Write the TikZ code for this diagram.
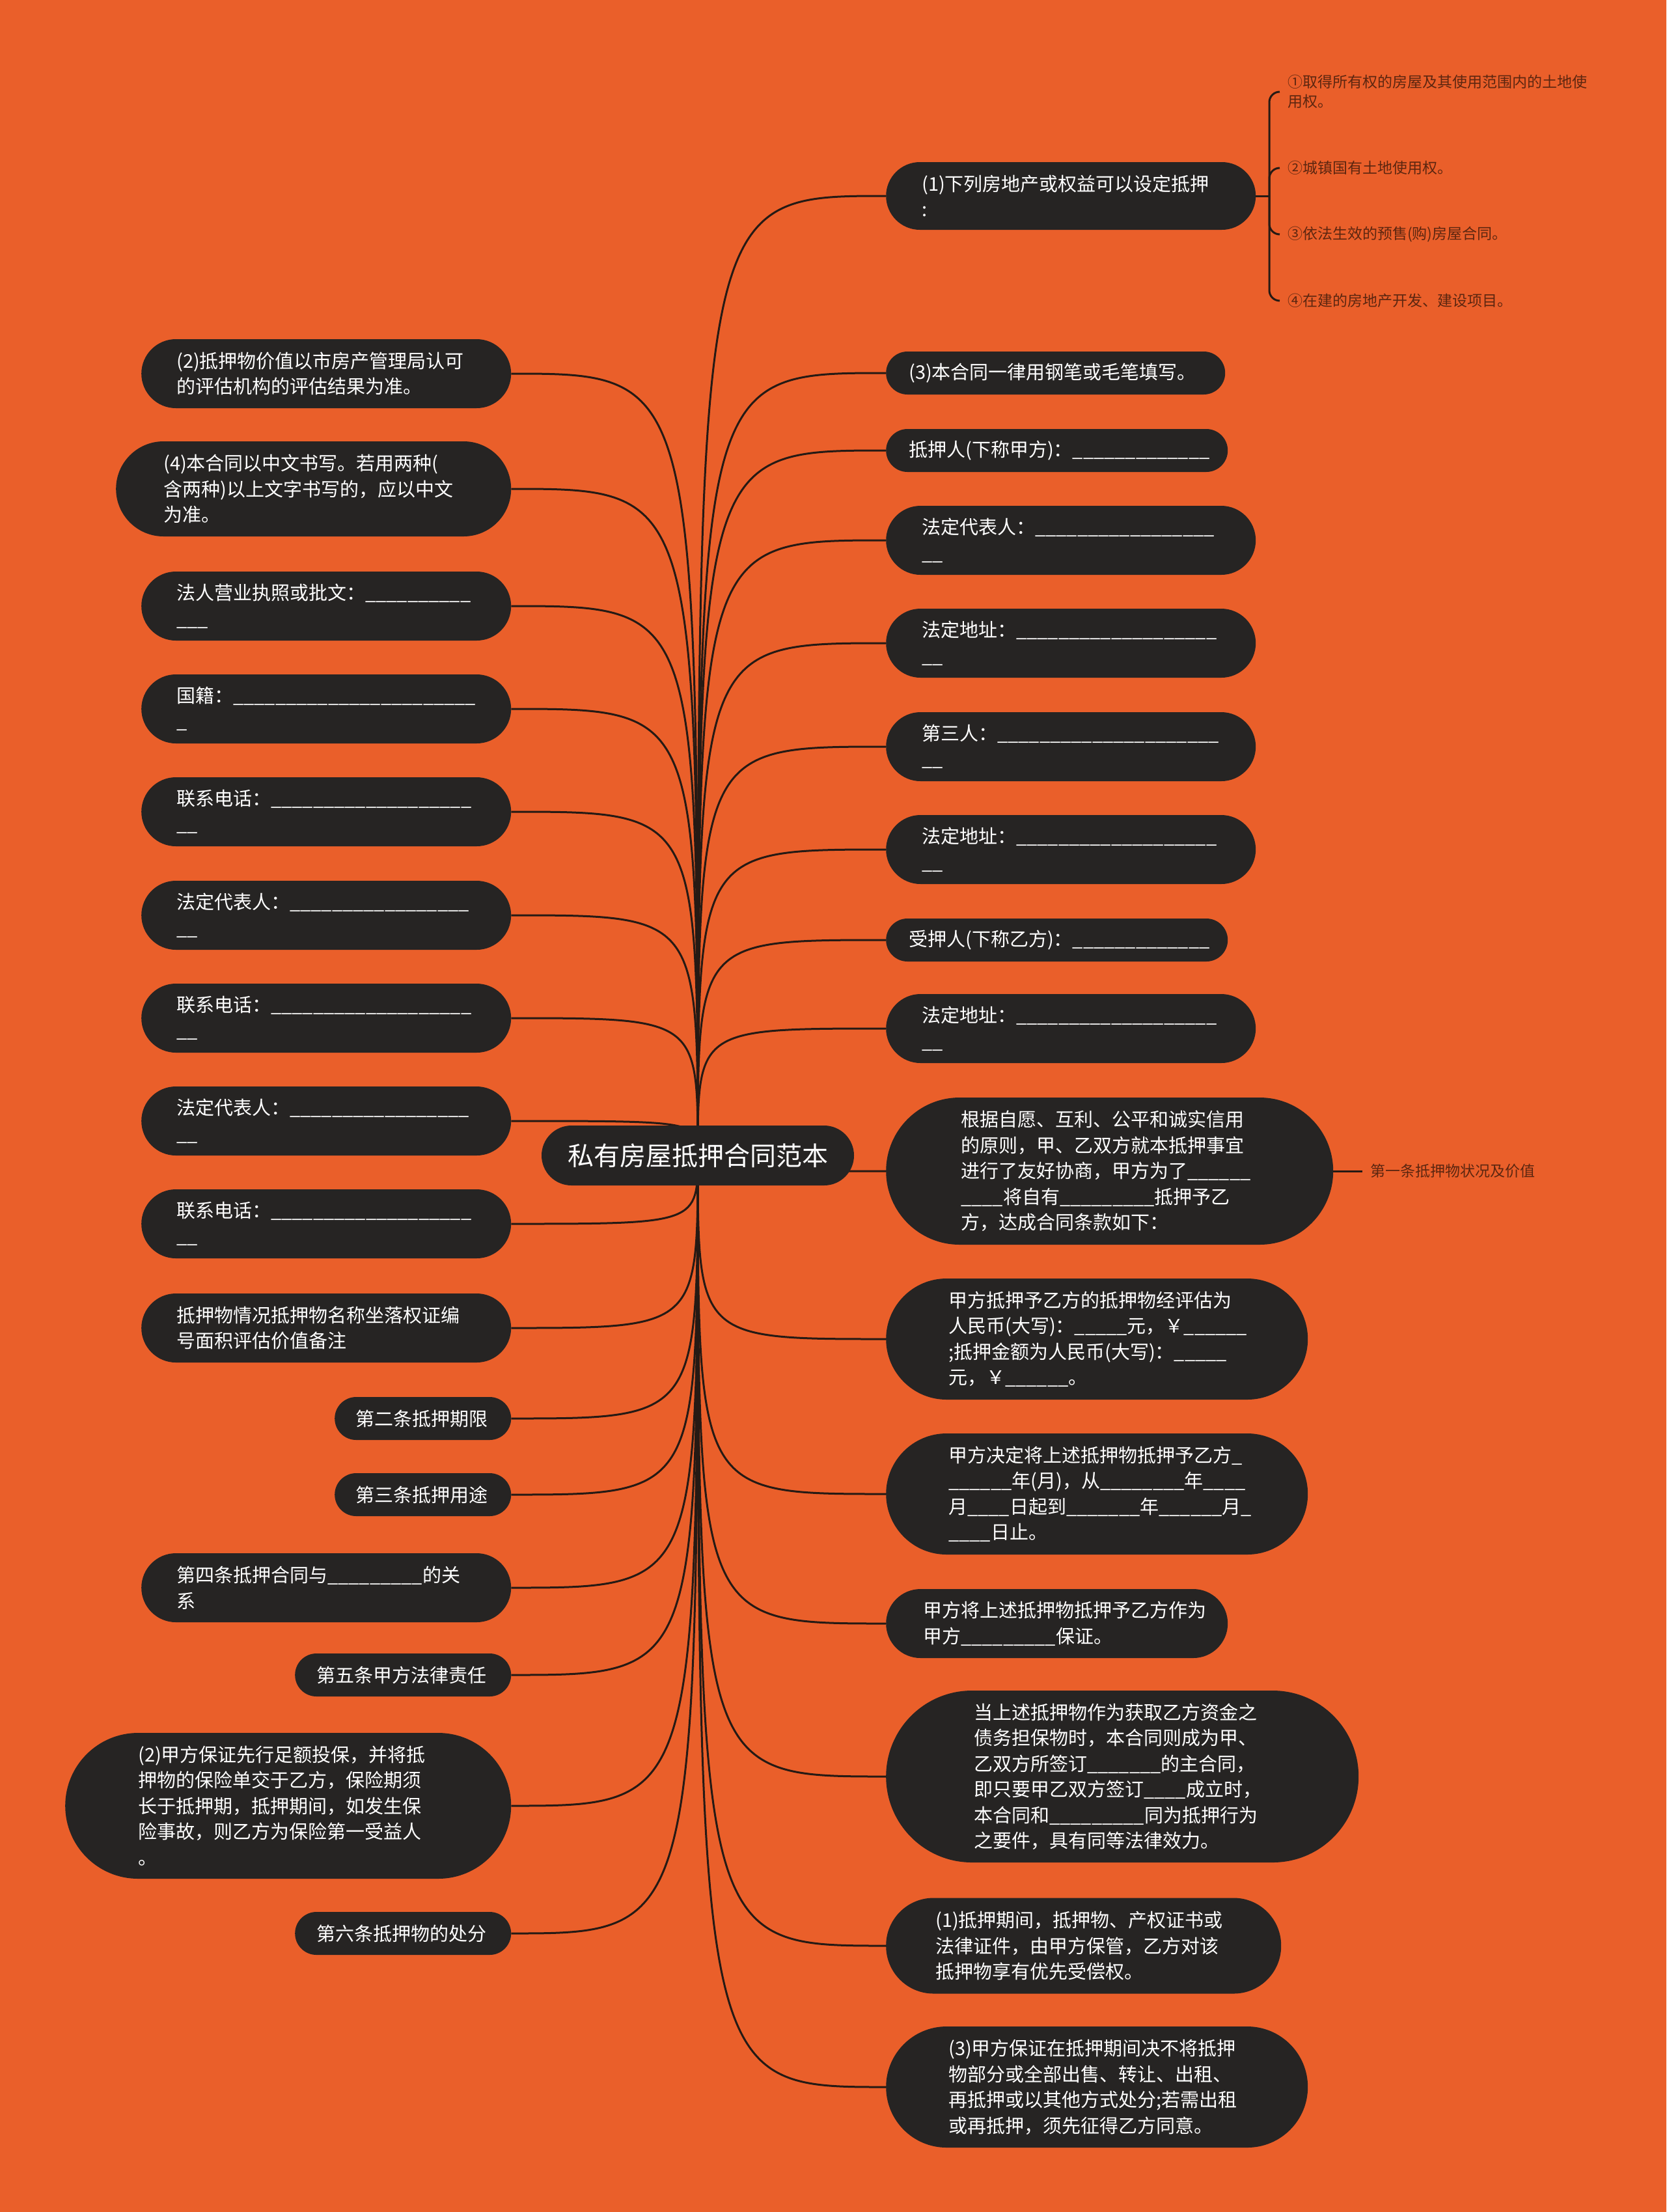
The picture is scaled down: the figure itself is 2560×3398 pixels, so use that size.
\documentclass[tikz,border=0pt]{standalone}
\usepackage{fontspec}
\setmainfont{Noto Sans CJK SC}
\definecolor{bgorange}{RGB}{234,95,42}
\definecolor{nodedark}{RGB}{38,36,35}
\definecolor{linedark}{RGB}{38,26,20}
\definecolor{subtext}{RGB}{92,38,16}
\pgfdeclarelayer{back}
\pgfdeclarelayer{edges}
\pgfsetlayers{back,edges,main}
\newcount\blcnt
\newcommand\fillblank[1]{\blcnt=0\relax\loop\ifnum\blcnt<#1\relax\textunderscore\advance\blcnt by 1\relax\repeat}
\begin{document}
\begin{tikzpicture}[x=1pt,y=-1pt,
  leaf/.style={fill=nodedark, text=white, font=\fontsize{29}{39.5}\selectfont, align=left, inner sep=0pt, anchor=west},
  pill/.style n args={4}{minimum width=#1pt, minimum height=#2pt, rounded corners=#3pt, text width=#4pt},
  rootbox/.style={fill=nodedark, text=white, font=\fontsize{40}{48}\selectfont, inner sep=0pt, minimum width=480pt, minimum height=92pt, rounded corners=46pt},
  subitem/.style={text=subtext, font=\fontsize{23}{30}\selectfont, align=left, anchor=west, inner xsep=12pt, inner ysep=0pt},
  conn/.style={draw=linedark, line width=3pt}]
\begin{pgfonlayer}{back}
\fill[bgorange] (0,0) rectangle (2560,3398);
\end{pgfonlayer}
\useasboundingbox (0,0) rectangle (2560,3398);

% root
\node[rootbox] (root) at (1072,1775) {私有房屋抵押合同范本};

% right column
\node[leaf, pill={568}{104}{52}{458}] (r1) at (1361,301) {(1)下列房地产或权益可以设定抵押\\:};
\node[leaf, pill={521}{66}{33}{451}] (r2) at (1361,573) {(3)本合同一律用钢笔或毛笔填写。};
\node[leaf, pill={525}{66}{33}{455}] (r3) at (1361,692) {抵押人(下称甲方)：\fillblank{13}};
\node[leaf, pill={568}{106}{53}{458}] (r4) at (1361,830) {法定代表人：\fillblank{17}\\\fillblank{2}};
\node[leaf, pill={568}{106}{53}{458}] (r5) at (1361,988) {法定地址：\fillblank{19}\\\fillblank{2}};
\node[leaf, pill={568}{106}{53}{458}] (r6) at (1361,1147) {第三人：\fillblank{21}\\\fillblank{2}};
\node[leaf, pill={568}{106}{53}{458}] (r7) at (1361,1305) {法定地址：\fillblank{19}\\\fillblank{2}};
\node[leaf, pill={525}{66}{33}{455}] (r8) at (1361,1444) {受押人(下称乙方)：\fillblank{13}};
\node[leaf, pill={568}{106}{53}{458}] (r9) at (1361,1580) {法定地址：\fillblank{19}\\\fillblank{2}};
\node[leaf, pill={687}{226}{113}{457}] (r10) at (1361,1799) {根据自愿、互利、公平和诚实信用\\的原则，甲、乙双方就本抵押事宜\\进行了友好协商，甲方为了\fillblank{6}\\\fillblank{4}将自有\fillblank{9}抵押予乙\\方，达成合同条款如下：};
\node[leaf, pill={648}{186}{93}{456}] (r11) at (1361,2057) {甲方抵押予乙方的抵押物经评估为\\人民币(大写)：\fillblank{5}元，￥\fillblank{6}\\;抵押金额为人民币(大写)：\fillblank{5}\\元，￥\fillblank{6}。};
\node[leaf, pill={648}{186}{93}{456}] (r12) at (1361,2295) {甲方决定将上述抵押物抵押予乙方\fillblank{1}\\\fillblank{6}年(月)，从\fillblank{8}年\fillblank{4}\\月\fillblank{4}日起到\fillblank{7}年\fillblank{6}月\fillblank{1}\\\fillblank{4}日止。};
\node[leaf, pill={525}{106}{53}{411}] (r13) at (1361,2494) {甲方将上述抵押物抵押予乙方作为\\甲方\fillblank{9}保证。};
\node[leaf, pill={726}{264}{132}{456}] (r14) at (1361,2729) {当上述抵押物作为获取乙方资金之\\债务担保物时，本合同则成为甲、\\乙双方所签订\fillblank{7}的主合同，\\即只要甲乙双方签订\fillblank{4}成立时，\\本合同和\fillblank{9}同为抵押行为\\之要件，具有同等法律效力。};
\node[leaf, pill={607}{147}{73}{455}] (r15) at (1361,2989) {(1)抵押期间，抵押物、产权证书或\\法律证件，由甲方保管，乙方对该\\抵押物享有优先受偿权。};
\node[leaf, pill={648}{186}{93}{456}] (r16) at (1361,3206) {(3)甲方保证在抵押期间决不将抵押\\物部分或全部出售、转让、出租、\\再抵押或以其他方式处分;若需出租\\或再抵押，须先征得乙方同意。};

% left column
\node[leaf, pill={568}{106}{53}{460}] (l1) at (217,574) {(2)抵押物价值以市房产管理局认可\\的评估机构的评估结果为准。};
\node[leaf, pill={607}{146}{73}{461}] (l2) at (178,751) {(4)本合同以中文书写。若用两种(\\含两种)以上文字书写的，应以中文\\为准。};
\node[leaf, pill={568}{106}{53}{460}] (l3) at (217,931) {法人营业执照或批文：\fillblank{10}\\\fillblank{3}};
\node[leaf, pill={568}{106}{53}{460}] (l4) at (217,1089) {国籍：\fillblank{23}\\\fillblank{1}};
\node[leaf, pill={568}{106}{53}{460}] (l5) at (217,1247) {联系电话：\fillblank{19}\\\fillblank{2}};
\node[leaf, pill={568}{106}{53}{460}] (l6) at (217,1406) {法定代表人：\fillblank{17}\\\fillblank{2}};
\node[leaf, pill={568}{106}{53}{460}] (l7) at (217,1564) {联系电话：\fillblank{19}\\\fillblank{2}};
\node[leaf, pill={568}{106}{53}{460}] (l8) at (217,1722) {法定代表人：\fillblank{17}\\\fillblank{2}};
\node[leaf, pill={568}{106}{53}{460}] (l9) at (217,1880) {联系电话：\fillblank{19}\\\fillblank{2}};
\node[leaf, pill={568}{106}{53}{460}] (l10) at (217,2040) {抵押物情况抵押物名称坐落权证编\\号面积评估价值备注};
\node[leaf, pill={271}{66}{33}{207}] (l11) at (514,2179) {第二条抵押期限};
\node[leaf, pill={271}{66}{33}{207}] (l12) at (514,2296) {第三条抵押用途};
\node[leaf, pill={568}{106}{53}{460}] (l13) at (217,2439) {第四条抵押合同与\fillblank{9}的关\\系};
\node[leaf, pill={332}{66}{33}{266}] (l14) at (453,2573) {第五条甲方法律责任};
\node[leaf, pill={685}{224}{112}{461}] (l15) at (100,2774) {(2)甲方保证先行足额投保，并将抵\\押物的保险单交于乙方，保险期须\\长于抵押期，抵押期间，如发生保\\险事故，则乙方为保险第一受益人\\。};
\node[leaf, pill={332}{66}{33}{266}] (l16) at (453,2970) {第六条抵押物的处分};

% sub items of r1
\node[subitem] (s1) at (1966,141) {①取得所有权的房屋及其使用范围内的土地使\\用权。};
\node[subitem] (s2) at (1966,258) {②城镇国有土地使用权。};
\node[subitem] (s3) at (1966,360) {③依法生效的预售(购)房屋合同。};
\node[subitem] (s4) at (1966,462) {④在建的房地产开发、建设项目。};
\coordinate (r1j) at (1950,301);
% sub item of r10
\node[subitem] (f1) at (2093,1799) {第一条抵押物状况及价值};

\begin{pgfonlayer}{edges}
\foreach \n in {r1,r2,r3,r4,r5,r6,r7,r8,r9,r10,r11,r12,r13,r14,r15,r16}
  \draw[conn] (root.center) .. controls (root.center |- \n.west) .. (\n.west);
\foreach \n in {l1,l2,l3,l4,l5,l6,l7,l8,l9,l10,l11,l12,l13,l14,l15,l16}
  \draw[conn] (root.center) .. controls (root.center |- \n.east) .. (\n.east);
\draw[conn] (r1.east) -- (r1j);
\foreach \s in {s1,s2,s3,s4}
  \draw[conn, rounded corners=16pt] (r1j) |- (\s.west);
\draw[conn] (r10.east) -- (f1.west);
\end{pgfonlayer}
\end{tikzpicture}
\end{document}
